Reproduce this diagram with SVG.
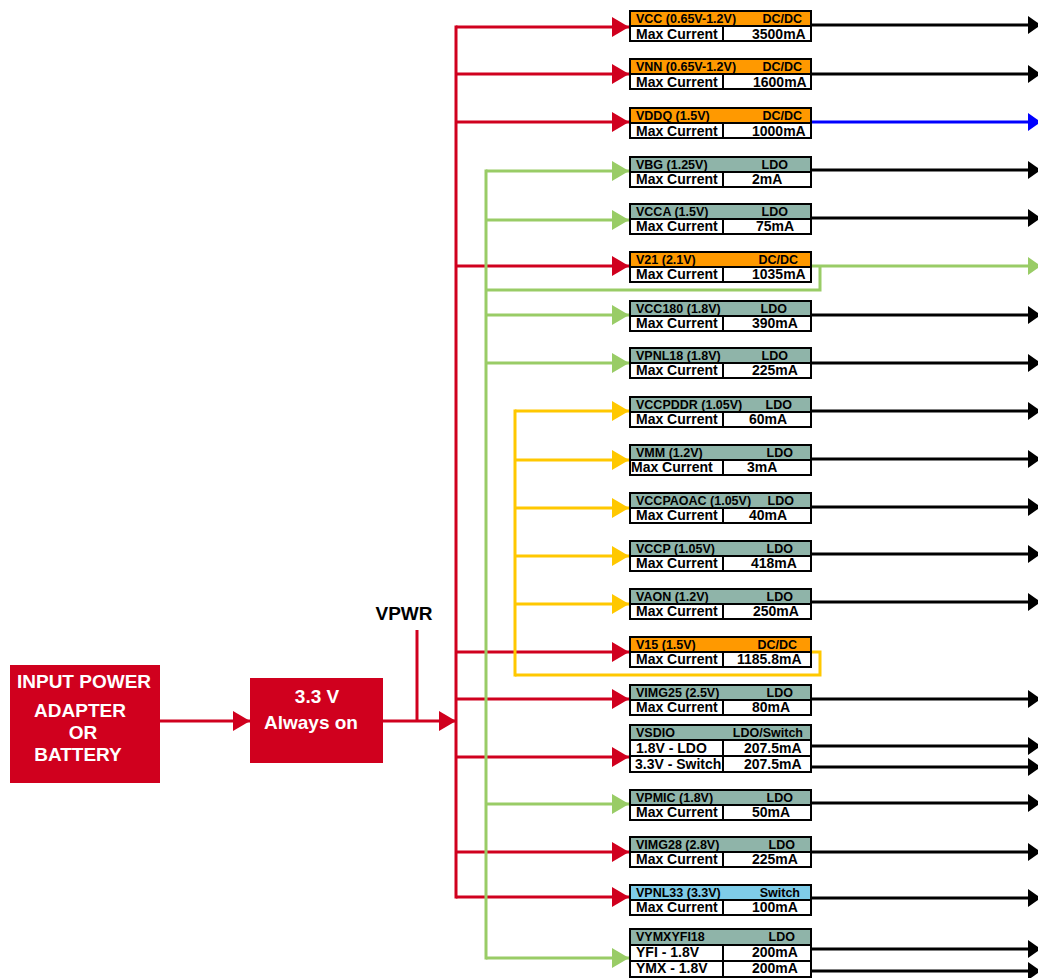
<svg xmlns="http://www.w3.org/2000/svg" width="1038" height="978" viewBox="0 0 1038 978">
<style>
text{font-family:"Liberation Sans",Arial,sans-serif;font-weight:bold}
.ht{font-size:12.5px;fill:#000}
.rt{font-size:14px;fill:#000}
.wt{font-size:19px;fill:#fff;text-anchor:middle}
.e{text-anchor:end}
.hb{stroke:#000;stroke-width:2}
.o{fill:#FF9900}
.g{fill:#8FB4A9}
.b{fill:#7FCCE8}
.w{fill:#fff}
.red{stroke:#D0001E;stroke-width:3;fill:none}
.grn{stroke:#99CC66;stroke-width:3;fill:none}
.yel{stroke:#FFC800;stroke-width:3;fill:none}
.blk{stroke:#000;stroke-width:3;fill:none}
.blu{stroke:#0000FF;stroke-width:3;fill:none}
.dv{stroke:#000;stroke-width:2}
</style>
<defs>
<marker id="mr" markerUnits="userSpaceOnUse" markerWidth="17" markerHeight="20" refX="17" refY="10" orient="auto"><path d="M0,0 L17,10 L0,20 z" fill="#D0001E"/></marker>
<marker id="mg" markerUnits="userSpaceOnUse" markerWidth="17" markerHeight="20" refX="17" refY="10" orient="auto"><path d="M0,0 L17,10 L0,20 z" fill="#99CC66"/></marker>
<marker id="my" markerUnits="userSpaceOnUse" markerWidth="17" markerHeight="20" refX="17" refY="10" orient="auto"><path d="M0,0 L17,10 L0,20 z" fill="#FFC800"/></marker>
<marker id="mk" markerUnits="userSpaceOnUse" markerWidth="13" markerHeight="18" refX="13" refY="9" orient="auto"><path d="M0,0 L13,9 L0,18 z" fill="#000"/></marker>
<marker id="mb" markerUnits="userSpaceOnUse" markerWidth="13" markerHeight="18" refX="13" refY="9" orient="auto"><path d="M0,0 L13,9 L0,18 z" fill="#0000FF"/></marker>
<marker id="mg2" markerUnits="userSpaceOnUse" markerWidth="13" markerHeight="18" refX="13" refY="9" orient="auto"><path d="M0,0 L13,9 L0,18 z" fill="#99CC66"/></marker>
</defs>

<g id="connectors">
<!-- input chain -->
<line class="red" x1="160" y1="721" x2="250" y2="721" marker-end="url(#mr)"/>
<line class="red" x1="383" y1="721" x2="456" y2="721" marker-end="url(#mr)"/>
<line class="red" x1="417" y1="630" x2="417" y2="721"/>
<!-- red bus -->
<line class="red" x1="456" y1="25.5" x2="456" y2="898.5"/>
<line class="red" x1="456" y1="27" x2="629" y2="27" marker-end="url(#mr)"/>
<line class="red" x1="456" y1="74" x2="629" y2="74" marker-end="url(#mr)"/>
<line class="red" x1="456" y1="122" x2="629" y2="122" marker-end="url(#mr)"/>
<line class="red" x1="456" y1="266" x2="629" y2="266" marker-end="url(#mr)"/>
<line class="red" x1="456" y1="652" x2="629" y2="652" marker-end="url(#mr)"/>
<line class="red" x1="456" y1="699" x2="629" y2="699" marker-end="url(#mr)"/>
<line class="red" x1="456" y1="757" x2="629" y2="757" marker-end="url(#mr)"/>
<line class="red" x1="456" y1="852" x2="629" y2="852" marker-end="url(#mr)"/>
<line class="red" x1="456" y1="897" x2="629" y2="897" marker-end="url(#mr)"/>
<!-- green bus -->
<line class="grn" x1="486" y1="169.5" x2="486" y2="959.5"/>
<line class="grn" x1="486" y1="171" x2="629" y2="171" marker-end="url(#mg)"/>
<line class="grn" x1="486" y1="220" x2="629" y2="220" marker-end="url(#mg)"/>
<line class="grn" x1="486" y1="315" x2="629" y2="315" marker-end="url(#mg)"/>
<line class="grn" x1="486" y1="363" x2="629" y2="363" marker-end="url(#mg)"/>
<line class="grn" x1="486" y1="804" x2="629" y2="804" marker-end="url(#mg)"/>
<line class="grn" x1="486" y1="958" x2="629" y2="958" marker-end="url(#mg)"/>
<polyline class="grn" points="820,266 820,290 486,290"/>
<line class="grn" x1="812" y1="266" x2="1041" y2="266" marker-end="url(#mg2)"/>
<!-- yellow bus -->
<line class="yel" x1="515" y1="409.5" x2="515" y2="676.5"/>
<line class="yel" x1="515" y1="411" x2="629" y2="411" marker-end="url(#my)"/>
<line class="yel" x1="515" y1="460" x2="629" y2="460" marker-end="url(#my)"/>
<line class="yel" x1="515" y1="508" x2="629" y2="508" marker-end="url(#my)"/>
<line class="yel" x1="515" y1="556" x2="629" y2="556" marker-end="url(#my)"/>
<line class="yel" x1="515" y1="604" x2="629" y2="604" marker-end="url(#my)"/>
<polyline class="yel" points="812,652 820,652 820,675 515,675"/>
<!-- outputs -->
<line class="blk" x1="812" y1="25" x2="1041" y2="25" marker-end="url(#mk)"/>
<line class="blk" x1="812" y1="74" x2="1041" y2="74" marker-end="url(#mk)"/>
<line class="blu" x1="812" y1="122" x2="1041" y2="122" marker-end="url(#mb)"/>
<line class="blk" x1="812" y1="170" x2="1041" y2="170" marker-end="url(#mk)"/>
<line class="blk" x1="812" y1="218" x2="1041" y2="218" marker-end="url(#mk)"/>
<line class="blk" x1="812" y1="315" x2="1041" y2="315" marker-end="url(#mk)"/>
<line class="blk" x1="812" y1="363" x2="1041" y2="363" marker-end="url(#mk)"/>
<line class="blk" x1="812" y1="411" x2="1041" y2="411" marker-end="url(#mk)"/>
<line class="blk" x1="812" y1="459" x2="1041" y2="459" marker-end="url(#mk)"/>
<line class="blk" x1="812" y1="507" x2="1041" y2="507" marker-end="url(#mk)"/>
<line class="blk" x1="812" y1="554" x2="1041" y2="554" marker-end="url(#mk)"/>
<line class="blk" x1="812" y1="602" x2="1041" y2="602" marker-end="url(#mk)"/>
<line class="blk" x1="812" y1="699" x2="1041" y2="699" marker-end="url(#mk)"/>
<line class="blk" x1="812" y1="746" x2="1041" y2="746" marker-end="url(#mk)"/>
<line class="blk" x1="812" y1="767" x2="1041" y2="767" marker-end="url(#mk)"/>
<line class="blk" x1="812" y1="803" x2="1041" y2="803" marker-end="url(#mk)"/>
<line class="blk" x1="812" y1="852" x2="1041" y2="852" marker-end="url(#mk)"/>
<line class="blk" x1="812" y1="898" x2="1041" y2="898" marker-end="url(#mk)"/>
<line class="blk" x1="812" y1="949" x2="1041" y2="949" marker-end="url(#mk)"/>
<line class="blk" x1="812" y1="971" x2="1041" y2="971" marker-end="url(#mk)"/>
</g>

<g id="input-power">
<rect x="10" y="665" width="150" height="118" fill="#D0001E"/>
<text class="wt" x="84" y="688">INPUT POWER</text>
<text class="wt" x="80" y="717">ADAPTER</text>
<text class="wt" x="83" y="739">OR</text>
<text class="wt" x="78" y="761">BATTERY</text>
</g>

<g id="always-on">
<rect x="250" y="678" width="133" height="85" fill="#D0001E"/>
<text class="wt" x="317" y="703">3.3 V</text>
<text class="wt" x="311" y="729">Always on</text>
</g>

<g id="vpwr-label">
<text x="404" y="620" style="font-size:19px;text-anchor:middle;fill:#000">VPWR</text>
</g>

<g id="vcc" transform="translate(630,11)">
<rect class="hb o" width="181" height="15"/><rect class="hb w" y="15" width="181" height="15"/><line class="dv" x1="93" y1="15" x2="93" y2="30"/>
<text class="ht" x="6" y="12">VCC (0.65V-1.2V)</text><text class="ht e" x="172" y="12">DC/DC</text>
<text class="rt" x="6" y="28">Max Current</text><text class="rt" x="122" y="28">3500mA</text>
</g>
<g id="vnn" transform="translate(630,59)">
<rect class="hb o" width="181" height="15"/><rect class="hb w" y="15" width="181" height="15"/><line class="dv" x1="93" y1="15" x2="93" y2="30"/>
<text class="ht" x="6" y="12">VNN (0.65V-1.2V)</text><text class="ht e" x="172" y="12">DC/DC</text>
<text class="rt" x="6" y="28">Max Current</text><text class="rt" x="123" y="28">1600mA</text>
</g>
<g id="vddq" transform="translate(630,108)">
<rect class="hb o" width="181" height="15"/><rect class="hb w" y="15" width="181" height="15"/><line class="dv" x1="93" y1="15" x2="93" y2="30"/>
<text class="ht" x="6" y="12">VDDQ (1.5V)</text><text class="ht e" x="172" y="12">DC/DC</text>
<text class="rt" x="6" y="28">Max Current</text><text class="rt" x="122" y="28">1000mA</text>
</g>
<g id="vbg" transform="translate(630,157)">
<rect class="hb g" width="181" height="15"/><rect class="hb w" y="15" width="181" height="15"/><line class="dv" x1="93" y1="15" x2="93" y2="30"/>
<text class="ht" x="6" y="12">VBG (1.25V)</text><text class="ht e" x="158" y="12">LDO</text>
<text class="rt" x="6" y="27">Max Current</text><text class="rt" x="122" y="27">2mA</text>
</g>
<g id="vcca" transform="translate(630,204)">
<rect class="hb g" width="181" height="15"/><rect class="hb w" y="15" width="181" height="15"/><line class="dv" x1="93" y1="15" x2="93" y2="30"/>
<text class="ht" x="6" y="12">VCCA (1.5V)</text><text class="ht e" x="158" y="12">LDO</text>
<text class="rt" x="6" y="27">Max Current</text><text class="rt" x="126" y="27">75mA</text>
</g>
<g id="v21" transform="translate(630,252)">
<rect class="hb o" width="181" height="15"/><rect class="hb w" y="15" width="181" height="15"/><line class="dv" x1="93" y1="15" x2="93" y2="30"/>
<text class="ht" x="6" y="12">V21 (2.1V)</text><text class="ht e" x="168" y="12">DC/DC</text>
<text class="rt" x="6" y="27">Max Current</text><text class="rt" x="122" y="27">1035mA</text>
</g>
<g id="vcc180" transform="translate(630,301)">
<rect class="hb g" width="181" height="15"/><rect class="hb w" y="15" width="181" height="15"/><line class="dv" x1="93" y1="15" x2="93" y2="30"/>
<text class="ht" x="6" y="12">VCC180 (1.8V)</text><text class="ht e" x="157" y="12">LDO</text>
<text class="rt" x="6" y="27">Max Current</text><text class="rt" x="122" y="27">390mA</text>
</g>
<g id="vpnl18" transform="translate(630,348)">
<rect class="hb g" width="181" height="15"/><rect class="hb w" y="15" width="181" height="15"/><line class="dv" x1="93" y1="15" x2="93" y2="30"/>
<text class="ht" x="6" y="12">VPNL18 (1.8V)</text><text class="ht e" x="158" y="12">LDO</text>
<text class="rt" x="6" y="27">Max Current</text><text class="rt" x="122" y="27">225mA</text>
</g>
<g id="vccpddr" transform="translate(630,397)">
<rect class="hb g" width="181" height="15"/><rect class="hb w" y="15" width="181" height="15"/><line class="dv" x1="93" y1="15" x2="93" y2="30"/>
<text class="ht" x="6" y="12">VCCPDDR (1.05V)</text><text class="ht e" x="162" y="12">LDO</text>
<text class="rt" x="6" y="27">Max Current</text><text class="rt" x="119" y="27">60mA</text>
</g>
<g id="vmm" transform="translate(630,445)">
<rect class="hb g" width="181" height="15"/><rect class="hb w" y="15" width="181" height="15"/><line class="dv" x1="93" y1="15" x2="93" y2="30"/>
<text class="ht" x="6" y="12">VMM (1.2V)</text><text class="ht e" x="163" y="12">LDO</text>
<text class="rt" x="1" y="27">Max Current</text><text class="rt" x="117" y="27">3mA</text>
</g>
<g id="vccpaoac" transform="translate(630,493)">
<rect class="hb g" width="181" height="15"/><rect class="hb w" y="15" width="181" height="15"/><line class="dv" x1="93" y1="15" x2="93" y2="30"/>
<text class="ht" x="6" y="12">VCCPAOAC (1.05V)</text><text class="ht e" x="164" y="12">LDO</text>
<text class="rt" x="6" y="27">Max Current</text><text class="rt" x="119" y="27">40mA</text>
</g>
<g id="vccp" transform="translate(630,541)">
<rect class="hb g" width="181" height="15"/><rect class="hb w" y="15" width="181" height="15"/><line class="dv" x1="93" y1="15" x2="93" y2="30"/>
<text class="ht" x="6" y="12">VCCP (1.05V)</text><text class="ht e" x="163" y="12">LDO</text>
<text class="rt" x="6" y="27">Max Current</text><text class="rt" x="121" y="27">418mA</text>
</g>
<g id="vaon" transform="translate(630,589)">
<rect class="hb g" width="181" height="15"/><rect class="hb w" y="15" width="181" height="15"/><line class="dv" x1="93" y1="15" x2="93" y2="30"/>
<text class="ht" x="6" y="12">VAON (1.2V)</text><text class="ht e" x="163" y="12">LDO</text>
<text class="rt" x="6" y="27">Max Current</text><text class="rt" x="123" y="27">250mA</text>
</g>
<g id="v15" transform="translate(630,637)">
<rect class="hb o" width="181" height="15"/><rect class="hb w" y="15" width="181" height="15"/><line class="dv" x1="93" y1="15" x2="93" y2="30"/>
<text class="ht" x="6" y="12">V15 (1.5V)</text><text class="ht e" x="167" y="12">DC/DC</text>
<text class="rt" x="6" y="27">Max Current</text><text class="rt" x="107" y="27">1185.8mA</text>
</g>
<g id="vimg25" transform="translate(630,685)">
<rect class="hb g" width="181" height="15"/><rect class="hb w" y="15" width="181" height="15"/><line class="dv" x1="93" y1="15" x2="93" y2="30"/>
<text class="ht" x="6" y="12">VIMG25 (2.5V)</text><text class="ht e" x="163" y="12">LDO</text>
<text class="rt" x="6" y="27">Max Current</text><text class="rt" x="122" y="27">80mA</text>
</g>
<g id="vsdio" transform="translate(630,725)">
<rect class="hb g" width="181" height="15"/><rect class="hb w" y="15" width="181" height="16"/><rect class="hb w" y="31" width="181" height="16"/><line class="dv" x1="93" y1="15" x2="93" y2="47"/>
<text class="ht" x="6" y="12">VSDIO</text><text class="ht e" x="173" y="12">LDO/Switch</text>
<text class="rt" x="6" y="28">1.8V - LDO</text><text class="rt" x="114" y="28">207.5mA</text>
<text class="rt" x="5" y="44">3.3V - Switch</text><text class="rt" x="114" y="44">207.5mA</text>
</g>
<g id="vpmic" transform="translate(630,790)">
<rect class="hb g" width="181" height="15"/><rect class="hb w" y="15" width="181" height="15"/><line class="dv" x1="93" y1="15" x2="93" y2="30"/>
<text class="ht" x="6" y="12">VPMIC (1.8V)</text><text class="ht e" x="163" y="12">LDO</text>
<text class="rt" x="6" y="27">Max Current</text><text class="rt" x="122" y="27">50mA</text>
</g>
<g id="vimg28" transform="translate(630,837)">
<rect class="hb g" width="181" height="15"/><rect class="hb w" y="15" width="181" height="15"/><line class="dv" x1="93" y1="15" x2="93" y2="30"/>
<text class="ht" x="6" y="12">VIMG28 (2.8V)</text><text class="ht e" x="165" y="12">LDO</text>
<text class="rt" x="6" y="27">Max Current</text><text class="rt" x="122" y="27">225mA</text>
</g>
<g id="vpnl33" transform="translate(630,885)">
<rect class="hb b" width="181" height="15"/><rect class="hb w" y="15" width="181" height="15"/><line class="dv" x1="93" y1="15" x2="93" y2="30"/>
<text class="ht" x="6" y="12">VPNL33 (3.3V)</text><text class="ht e" x="170" y="12">Switch</text>
<text class="rt" x="6" y="27">Max Current</text><text class="rt" x="122" y="27">100mA</text>
</g>
<g id="vymxyfi18" transform="translate(630,929)">
<rect class="hb g" width="181" height="16"/><rect class="hb w" y="16" width="181" height="16"/><rect class="hb w" y="32" width="181" height="16"/><line class="dv" x1="93" y1="16" x2="93" y2="48"/>
<text class="ht" x="6" y="12">VYMXYFI18</text><text class="ht e" x="165" y="12">LDO</text>
<text class="rt" x="6" y="28">YFI - 1.8V</text><text class="rt" x="122" y="28">200mA</text>
<text class="rt" x="6" y="44">YMX - 1.8V</text><text class="rt" x="122" y="44">200mA</text>
</g>
</svg>
